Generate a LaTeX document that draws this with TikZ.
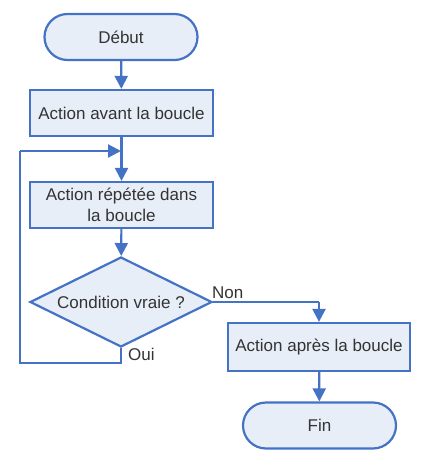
\documentclass[tikz,border=0pt]{standalone}
\usepackage{fontspec}
\setmainfont{Liberation Sans}
\usetikzlibrary{arrows.meta,shapes.geometric,shapes.misc}
\definecolor{bord}{HTML}{4472C4}
\definecolor{fond}{HTML}{E8EEF8}
\definecolor{txt}{HTML}{333333}
\tikzset{
  base/.style={draw=bord, fill=fond, line width=2.2pt, text=txt, font=\fontsize{17}{21}\selectfont, inner sep=0pt},
  term/.style={base, rounded rectangle, minimum width=153pt, minimum height=46pt},
  box/.style={base, rectangle, minimum height=46pt, align=center},
  cond/.style={base, diamond, aspect=2.02, minimum width=182pt, minimum height=90pt},
  fl/.style={draw=bord, line width=2.2pt, -{Triangle[width=13pt,length=13pt]}},
  ln/.style={draw=bord, line width=2.2pt},
  lab/.style={text=txt, font=\fontsize{17}{21}\selectfont, inner sep=0pt}
}
\begin{document}
\begin{tikzpicture}[x=1pt,y=-1pt]
\useasboundingbox (0,0) rectangle (420,460);
\node[term] (deb) at (121,37) {Début};
\node[box, minimum width=183pt] (av) at (121.5,113) {Action avant la boucle};
\node[box, minimum width=183pt] (rep) at (121.5,205) {Action répétée dans\\la boucle};
\node[cond] (c) at (121,302) {Condition vraie ?};
\node[box, minimum width=182pt, minimum height=48pt] (ap) at (319,347) {Action après la boucle};
\node[term] (fin) at (319.5,425.5) {Fin};
\coordinate (j) at (121,151);
\coordinate (b1) at (121,363);
\coordinate (b2) at (20,363);
\coordinate (b3) at (20,151);
\coordinate (r1) at (319,302);
\draw[fl] (deb) -- (av);
\draw[fl] (av) -- (rep);
\draw[fl] (rep) -- (c);
\draw[ln] (c.south) -- (b1) -- (b2) -- (b3);
\draw[fl] (b3) -- (j);
\draw[ln] (c.east) -- (r1);
\draw[fl] (r1) -- (ap);
\draw[fl] (ap) -- (fin);
\node[lab, anchor=west] (oui) at (128,354) {Oui};
\node[lab, anchor=west] (non) at (212,293) {Non};
\end{tikzpicture}
\end{document}
